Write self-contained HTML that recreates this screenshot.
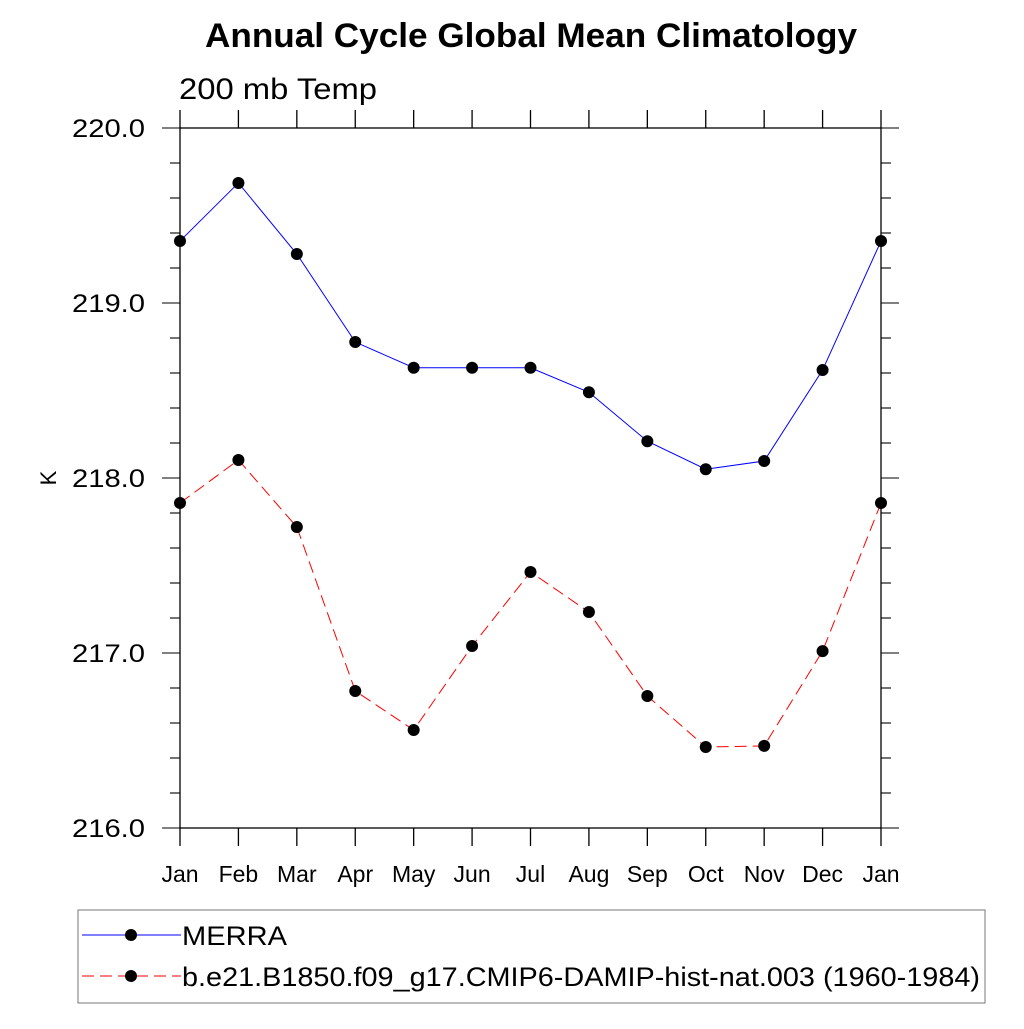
<!DOCTYPE html>
<html><head><meta charset="utf-8"><style>
body{margin:0;background:#fff;}
svg text{font-family:"Liberation Sans",sans-serif;}
</style></head><body>
<svg id="chart" width="1024" height="1024" viewBox="0 0 1024 1024">
<text x="205" y="47" font-size="34" font-weight="bold" textLength="652" lengthAdjust="spacingAndGlyphs">Annual Cycle Global Mean Climatology</text>
<text x="179" y="99" font-size="30" textLength="198" lengthAdjust="spacingAndGlyphs">200 mb Temp</text>
<text transform="translate(56,478) rotate(-90)" font-size="22" text-anchor="middle">K</text>
<g id="axes"></g>
<g id="series"></g>
<g>
<rect x="78" y="910" width="907" height="93" fill="none" stroke="#777" stroke-width="1"/>
<g>
<line x1="82" y1="935" x2="181" y2="935" stroke="#00f" stroke-width="1"/>
<circle cx="131" cy="935" r="6" fill="#000"/>
<text x="182" y="945" font-size="27" textLength="105" lengthAdjust="spacingAndGlyphs">MERRA</text>
</g>
<g>
<line x1="82" y1="976" x2="181" y2="976" stroke="#f00" stroke-width="1" stroke-dasharray="12,6"/>
<circle cx="131" cy="976" r="6" fill="#000"/>
<text x="182" y="986" font-size="27" textLength="798" lengthAdjust="spacingAndGlyphs">b.e21.B1850.f09_g17.CMIP6-DAMIP-hist-nat.003 (1960-1984)</text>
</g>
</g>
</svg>
<script>
const months=["Jan","Feb","Mar","Apr","May","Jun","Jul","Aug","Sep","Oct","Nov","Dec","Jan"];
const merra=[219.354,219.686,219.28,218.777,218.63,218.63,218.63,218.49,218.21,218.05,218.097,218.617,219.354];
const model=[217.857,218.103,217.72,216.783,216.56,217.04,217.463,217.234,216.754,216.463,216.469,217.011,217.857];
const yTicks=[216,217,218,219,220];
const yTickLabels=["216.0","217.0","218.0","219.0","220.0"];
const L=180,R=881,T=128,B=828,ymin=216,ymax=220;
const xs=i=>L+(R-L)*i/(months.length-1);
const ys=v=>B-(v-ymin)/(ymax-ymin)*(B-T);
const NS="http://www.w3.org/2000/svg";
function mk(tag,attrs,parent){const e=document.createElementNS(NS,tag);for(const k in attrs)e.setAttribute(k,attrs[k]);parent.appendChild(e);return e;}
const ax=document.getElementById('axes');
const frame=mk('rect',{x:L,y:T,width:R-L,height:B-T,fill:'none',stroke:'#000','stroke-width':1.3},ax);


for(let i=0;i<months.length;i++){
 const x=xs(i);
 mk('line',{x1:x,y1:B,x2:x,y2:B+18,stroke:'#000','stroke-width':1.3},ax);
 mk('line',{x1:x,y1:T,x2:x,y2:T-18,stroke:'#000','stroke-width':1.3},ax);
 const t=mk('text',{x:x,y:882,'font-size':23,'text-anchor':'middle'},ax);
 t.textContent=months[i];
 
 
}
for(let v=ymin;v<=ymax+1e-9;v+=0.2){
 const y=ys(v);const major=Math.abs(v-Math.round(v))<1e-6;const len=major?18:10;
 mk('line',{x1:L,y1:y,x2:L-len,y2:y,stroke:'#000','stroke-width':1.1},ax);
 mk('line',{x1:R,y1:y,x2:R+len,y2:y,stroke:'#000','stroke-width':1.1},ax);
}
yTicks.forEach((v,i)=>{
 const t=mk('text',{x:72,y:ys(v)+9,'font-size':25,textLength:73,lengthAdjust:'spacingAndGlyphs'},ax);
 t.textContent=yTickLabels[i];
 
 
});
const sg=document.getElementById('series');
function draw(vals,color,dash,name){
 const g=mk('g',{},sg);
 
 
 const pts=vals.map((v,i)=>xs(i)+','+ys(v)).join(' ');
 const pl=mk('polyline',{points:pts,fill:'none',stroke:color,'stroke-width':1,'stroke-dasharray':dash},g);
 
 
 vals.forEach((v,i)=>{
  const c=mk('circle',{cx:xs(i),cy:ys(v),r:6,fill:'#000'},g);
  
  
 });
}
draw(merra,'#00f','none','merra-series');
draw(model,'#f00','12,6','model-series');
</script>
</body></html>
